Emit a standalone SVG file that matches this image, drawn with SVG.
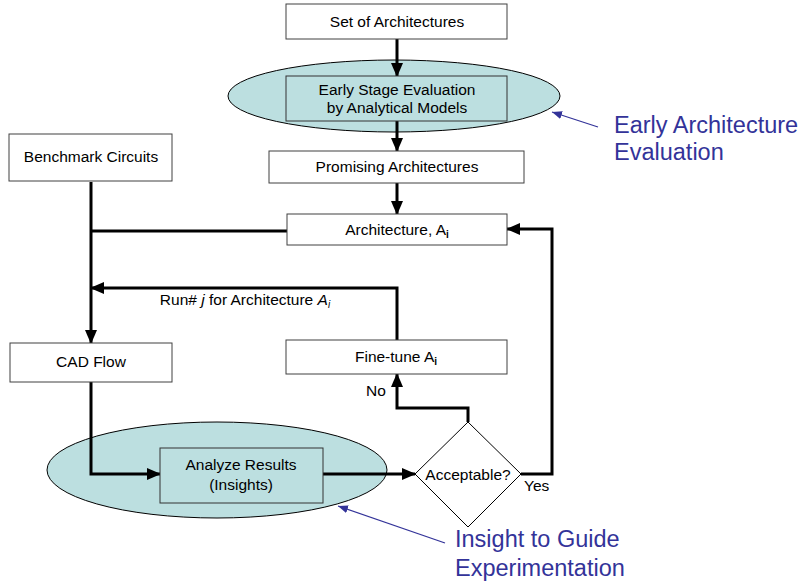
<svg xmlns="http://www.w3.org/2000/svg" width="807" height="584" viewBox="0 0 807 584">
<style>
  .box { fill: #ffffff; stroke: #404040; stroke-width: 1; }
  .hl { fill: #bcdfe0; stroke: #000000; stroke-width: 1; }
  .t { font-family: "Liberation Sans", Arial, sans-serif; font-size: 15.5px; fill: #000000; text-anchor: middle; }
  .tl { font-family: "Liberation Sans", Arial, sans-serif; font-size: 15.5px; fill: #000000; }
  .note { font-family: "Liberation Sans", Arial, sans-serif; font-size: 23.5px; fill: #333399; }
  .c { fill: none; stroke: #000000; stroke-width: 3; }
  .n { fill: none; stroke: #333399; stroke-width: 1.2; }
</style>
<defs>
  <marker id="ah" markerUnits="userSpaceOnUse" markerWidth="14" markerHeight="12" refX="13" refY="6" orient="auto">
    <path d="M0,0 L14,6 L0,12 z" fill="#000000"/>
  </marker>
  <marker id="bh" markerUnits="userSpaceOnUse" markerWidth="10" markerHeight="8" refX="10" refY="4" orient="auto">
    <path d="M0,0 L10,4 L0,8 z" fill="#333399"/>
  </marker>
</defs>

<g id="ellipse-top"><ellipse class="hl" cx="394" cy="96" rx="166" ry="36"/></g>
<g id="ellipse-bottom"><ellipse class="hl" cx="217" cy="470" rx="170" ry="48"/></g>

<g id="connectors">
  <line class="c" x1="397" y1="39" x2="397" y2="76" marker-end="url(#ah)"/>
  <line class="c" x1="397" y1="121" x2="397" y2="151" marker-end="url(#ah)"/>
  <line class="c" x1="397" y1="183" x2="397" y2="214" marker-end="url(#ah)"/>
  <polyline class="c" points="287,231 91,231"/>
  <line class="c" x1="91" y1="182" x2="91" y2="343" marker-end="url(#ah)"/>
  <polyline class="c" points="397,340 397,288 91,288" marker-end="url(#ah)"/>
  <polyline class="c" points="91,382 91,474 160,474" marker-end="url(#ah)"/>
  <line class="c" x1="323" y1="474" x2="415" y2="474" marker-end="url(#ah)"/>
  <polyline class="c" points="468,422 468,408 397,408 397,374" marker-end="url(#ah)"/>
  <polyline class="c" points="521,474 552,474 552,229 507,229" marker-end="url(#ah)"/>
  <line class="n" x1="598" y1="127" x2="552" y2="112" marker-end="url(#bh)"/>
  <line class="n" x1="445" y1="543" x2="338" y2="506" marker-end="url(#bh)"/>
</g>

<g id="set-of-architectures">
  <rect class="box" x="286" y="4" width="221" height="35"/>
  <text class="t" x="397" y="27">Set of Architectures</text>
</g>
<g id="early-stage-evaluation">
  <rect class="hl" x="286" y="76" width="221" height="45" style="stroke:#333333"/>
  <text class="t" x="397" y="95">Early Stage Evaluation</text>
  <text class="t" x="397" y="113">by Analytical Models</text>
</g>
<g id="promising-architectures">
  <rect class="box" x="269" y="151" width="255" height="32"/>
  <text class="t" x="397" y="172">Promising Architectures</text>
</g>
<g id="benchmark-circuits">
  <rect class="box" x="9" y="134" width="163" height="47"/>
  <text class="t" x="91" y="162">Benchmark Circuits</text>
</g>
<g id="architecture-ai">
  <rect class="box" x="287" y="214" width="220" height="31"/>
  <text class="t" x="397" y="235">Architecture, A<tspan font-size="10" font-weight="bold" dy="3">i</tspan></text>
</g>
<g id="run-label">
  <text class="t" x="245" y="305">Run# <tspan font-style="italic">j</tspan> for Architecture <tspan font-style="italic">A</tspan><tspan font-style="italic" font-size="10" dy="3">i</tspan></text>
</g>
<g id="fine-tune-ai">
  <rect class="box" x="286" y="340" width="221" height="34"/>
  <text class="t" x="396" y="362">Fine-tune A<tspan font-size="10" font-weight="bold" dy="3">i</tspan></text>
</g>
<g id="cad-flow">
  <rect class="box" x="10" y="343" width="162" height="39"/>
  <text class="t" x="91" y="367">CAD Flow</text>
</g>
<g id="analyze-results">
  <rect class="hl" x="160" y="448" width="163" height="55" style="stroke:#333333"/>
  <text class="t" x="241" y="470">Analyze Results</text>
  <text class="t" x="241" y="490">(Insights)</text>
</g>
<g id="acceptable">
  <polygon points="468,422 521,474 468,527 415,474" fill="#ffffff" stroke="#000000" stroke-width="1"/>
  <text class="t" x="468" y="480">Acceptable?</text>
</g>
<g id="labels">
  <text class="tl" x="366" y="396">No</text>
  <text class="tl" x="524" y="491">Yes</text>
</g>
<g id="notes">
  <text class="note" x="614" y="133">Early Architecture</text>
  <text class="note" x="614" y="160">Evaluation</text>
  <text class="note" x="455" y="547">Insight to Guide</text>
  <text class="note" x="455" y="576">Experimentation</text>
</g>
</svg>
